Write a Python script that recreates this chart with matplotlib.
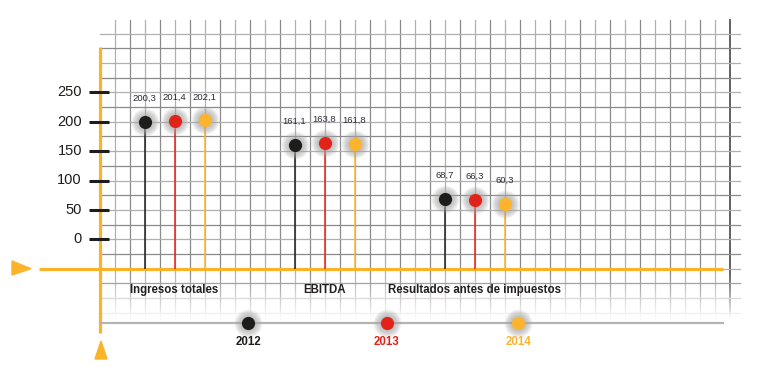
import numpy as np
import matplotlib.pyplot as plt
from matplotlib.patches import Polygon

plt.rcParams['font.family'] = ['Liberation Sans', 'DejaVu Sans']

# data
categories = ["Ingresos totales", "EBITDA", "Resultados antes de impuestos"]
years = ["2012", "2013", "2014"]
values_2012 = [200.3, 161.1, 68.7]
values_2013 = [201.4, 163.8, 66.3]
values_2014 = [202.1, 161.8, 60.3]
yticks = [0, 50, 100, 150, 200, 250]

series = [values_2012, values_2013, values_2014]
colors = ["#1d1d1b", "#e2231a", "#fbb42c"]
BASE = -50          # value where the orange axis sits
ORANGE = "#fbb42a"

# layout: one axes over the whole figure, 30 px per x unit, 0.588 px per value unit
W, H = 765, 383
X0, XS = 174.5, 30.0
Y0, YS = 239.3, 0.588
px_x = lambda p: (p - X0) / XS
px_y = lambda p: (Y0 - p) / YS

fig = plt.figure(figsize=(W / 100, H / 100), dpi=100)
ax = fig.add_axes([0, 0, 1, 1])
ax.axis("off")
xlim = (px_x(0), px_x(W))
ylim = (px_y(H), px_y(0))

# grid
gx = np.arange(-2.0, 18.01, 0.5)
for i, x in enumerate(gx):
    ax.plot([x, x], [px_y(20), px_y(318)], color="#8a8a8a" if i % 2 else "#b0b0b0",
            lw=0.9, zorder=1)
ax.plot([18.5, 18.5], [px_y(20), px_y(318)], color="#555555", lw=1.3, zorder=1)
gy = np.arange(350, -126, -25)
for i, y in enumerate(gy):
    ax.plot([px_x(100), px_x(740)], [y, y], color="#8a8a8a" if i % 2 else "#b0b0b0",
            lw=0.9, zorder=1)

# fade grid out at the bottom
grad = np.ones((64, 2, 4))
grad[..., 3] = np.linspace(0, 1, 64)[:, None] ** 1.2
ax.imshow(grad, extent=[px_x(95), px_x(745), px_y(319), px_y(270)],
          aspect="auto", zorder=2, interpolation="bilinear")

# orange axes with arrows
ax.plot([px_x(39), px_x(723)], [BASE, BASE], color=ORANGE, lw=2.3, zorder=3,
        solid_capstyle="butt")
ax.plot([px_x(100), px_x(100)], [px_y(47), px_y(333)], color=ORANGE, lw=2.3, zorder=3,
        solid_capstyle="butt")
ax.add_patch(Polygon([[px_x(12), px_y(261)], [px_x(31), BASE], [px_x(12), px_y(275)]],
                     closed=True, color=ORANGE, zorder=3))
ax.add_patch(Polygon([[px_x(95), px_y(359)], [px_x(101), px_y(341)], [px_x(107), px_y(359)]],
                     closed=True, color=ORANGE, zorder=3))

# y ticks
ax.hlines(yticks, px_x(89), px_x(109), color="#1d1d1b", lw=2.2, zorder=4)
for t in yticks:
    ax.text(px_x(82), t, str(t), ha="right", va="center", fontsize=10.5, color="#1d1d1b")


def glow_dot(x, y, c, size=9.5):
    for s in np.linspace(20, size + 1, 8):
        ax.plot(x, y, "o", ms=s, color="#a8a8a8", alpha=0.13, mec="none", zorder=5)
    ax.plot(x, y, "o", ms=size, color=c, mec="none", zorder=6)


# lollipops
groups = np.arange(len(categories)) * 5.0
for j, (vals, c) in enumerate(zip(series, colors)):
    xs = groups + (j - 1)
    ax.vlines(xs, BASE, vals, color=c, lw=1.1, zorder=4)
    for x, v in zip(xs, vals):
        glow_dot(x, v, c)
        ax.annotate(f"{v:.1f}".replace(".", ","), (x, v), xytext=(0, 17),
                    textcoords="offset points", ha="center", va="center",
                    fontsize=6.8, color="#2b2b35", zorder=7)

for g, cat in zip(groups, categories):
    ax.text(g, px_y(290), cat, ha="center", va="center", fontsize=8.3,
            fontweight="bold", color="#231f20", zorder=7)

# legend
ax.plot([px_x(100), px_x(723)], [px_y(323), px_y(323)], color="#b4b4b4", lw=1.6, zorder=3)
leg_x = [px_x(248), px_x(387), px_x(518)]
for x, yr, c in zip(leg_x, years, colors):
    glow_dot(x, px_y(323), c)
    ax.text(x, px_y(342), yr, ha="center", va="center", fontsize=8.3,
            fontweight="bold", color=c, zorder=7)

ax.set_xlim(xlim)
ax.set_ylim(ylim)
fig.savefig("out.png", dpi=100)
